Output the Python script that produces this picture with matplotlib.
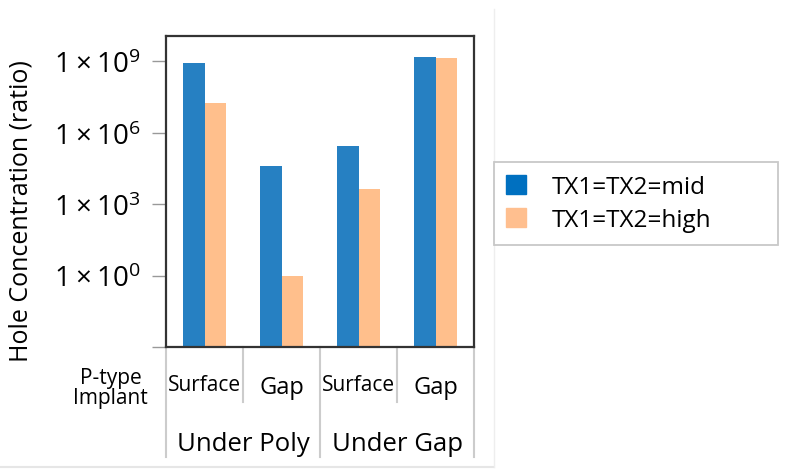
import matplotlib
matplotlib.use('Agg')
import matplotlib.pyplot as plt
from matplotlib.patches import Patch
from matplotlib.lines import Line2D
import numpy as np

plt.rcParams['font.family'] = ['Open Sans', 'DejaVu Sans']
plt.rcParams['mathtext.fontset'] = 'custom'
plt.rcParams['mathtext.rm'] = 'Open Sans'

implants = ['Surface', 'Gap', 'Surface', 'Gap']
regions = ['Under Poly', 'Under Gap']
series = ['TX1=TX2=mid', 'TX1=TX2=high']
mid_vals = [8.9e8, 4.0e4, 2.8e5, 1.5e9]
high_vals = [1.8e7, 1.0, 4.2e3, 1.4e9]
ytick_exps = [0, 3, 6, 9]

bar_colors = ['#2680C2', '#FFBF8C']
legend_colors = ['#0070C0', '#FFBF8F']

fig = plt.figure(figsize=(7.86, 4.77), dpi=100)
ax = fig.add_axes([0.2112, 0.2704, 0.3919, 0.652])

x = np.arange(len(implants))
w = 0.28
ax.bar(x - w / 2, mid_vals, w, color=bar_colors[0], bottom=1e-3)
ax.bar(x + w / 2, high_vals, w, color=bar_colors[1], bottom=1e-3)

ax.set_yscale('log')
ax.set_ylim(1e-3, 1.17e10)
ax.set_xlim(-0.5, len(implants) - 0.5)
ax.minorticks_off()
ax.set_yticks([1e-3] + [10.0 ** e for e in ytick_exps])
ax.set_yticklabels([''] + [r'$\mathregular{1\times10^{%d}}$' % e for e in ytick_exps])
ax.tick_params(axis='y', length=10, width=1, color='#999999', labelsize=20, pad=8)
ax.set_xticks([])
for s in ax.spines.values():
    s.set_color('#333333')
    s.set_linewidth(1.6)

ax.set_ylabel('Hole Concentration (ratio)', fontsize=18)
ax.yaxis.set_label_coords(-0.43, 0.44)

# category table below the axes
trans = ax.get_xaxis_transform()
for i, b in enumerate(np.arange(-0.5, len(implants))):
    y_end = -0.354 if i % 2 == 0 else -0.177
    ax.plot([b, b], [0, y_end], color='#cccccc', lw=1.5, transform=trans, clip_on=False)

for xi, lab in zip(x, implants):
    fs = 15 if lab == 'Surface' else 17
    yy = -0.12 if lab == 'Surface' else -0.13
    ax.text(xi, yy, lab, ha='center', va='center', fontsize=fs, transform=trans)
for j, lab in enumerate(regions):
    ax.text(2 * j + 0.5, -0.31, lab, ha='center', va='center', fontsize=18.5, transform=trans)
ax.text(-1.22, -0.13, 'P-type\nImplant', ha='center', va='center', fontsize=15,
        linespacing=0.95, transform=trans)

# faint panel borders
fig.add_artist(Line2D([0, 0.6285], [0.019, 0.019], color='#e6e6e6', lw=1.5))
fig.add_artist(Line2D([0.6285, 0.6285], [0.019, 0.979], color='#eeeeee', lw=1.0))

handles = [Patch(color=c) for c in legend_colors]
leg = fig.legend(handles, series, loc='center left', bbox_to_anchor=(0.6285, 0.4843, 0.361, 0.174),
                 mode='expand', fontsize=17.5, handlelength=0.82, handleheight=0.82,
                 handletextpad=1.07, labelspacing=0.4, borderpad=0.5, borderaxespad=0,
                 fancybox=False, frameon=True)
leg.get_frame().set_edgecolor('#bbbbbb')
leg.get_frame().set_linewidth(1.3)

fig.savefig('out.png', dpi=100)
